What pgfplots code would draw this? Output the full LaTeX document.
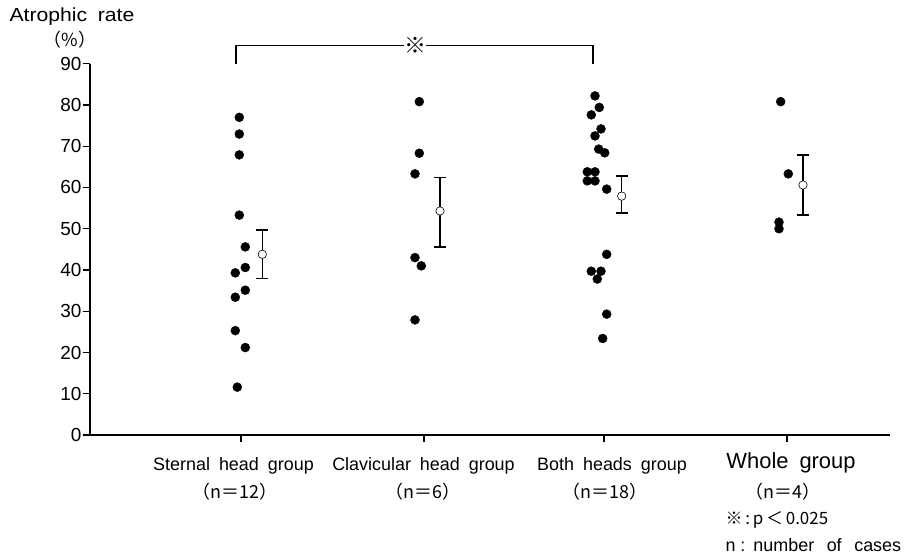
\documentclass[border=0pt]{standalone}
\usepackage{fontspec}
\setmainfont{Liberation Sans}
\newfontfamily\cjk{Noto Sans CJK JP}
\usepackage{pgfplots}
\pgfplotsset{compat=1.18}

\newcommand{\ws}{\hspace{0.5em}}

\begin{document}
\begin{tikzpicture}
\useasboundingbox (0,0) rectangle (907bp,-554bp);
\begin{axis}[
    at={(90bp,-435bp)}, anchor=south west,
    scale only axis,
    width=800bp, height=371.3bp,
    xmin=90, xmax=890, ymin=0, ymax=90,
    axis x line=bottom, axis y line=left,
    axis line style={-, line width=1.4pt},
    xtick={241,424,604,787}, xticklabels={},
    ytick={0,10,...,90},
    tick align=outside,
    major tick length=7bp,
    tick style={line width=1.1pt, black},
    yticklabel style={font=\fontsize{19}{21}\selectfont, xshift=2bp},
    /pgf/number format/assume math mode=true,
    clip=false,
]
    % individual cases
    \addplot[only marks, mark=*, mark size=4.5bp, black] coordinates {
        (239.3,77.0) (239.3,72.95) (239.3,67.9) (239.3,53.3)
        (245.3,45.6) (245.3,40.6) (235.3,39.3) (245.3,35.1)
        (235.3,33.4) (235.3,25.3) (245.3,21.2) (237.3,11.6)
    };
    \addplot[only marks, mark=*, mark size=4.5bp, black] coordinates {
        (419.3,80.8) (419.3,68.3) (415,63.3) (415,43.0) (421.3,41.0) (415,27.9)
    };
    \addplot[only marks, mark=*, mark size=4.5bp, black] coordinates {
        (595,82.2) (599.3,79.4) (591.3,77.6) (601,74.2) (595,72.5)
        (598.7,69.3) (604.7,68.4) (587.3,63.8) (595,63.8) (587.3,61.6)
        (595,61.6) (606.7,59.6) (606.7,43.8) (591.3,39.7) (601,39.7)
        (597.3,37.8) (606.7,29.3) (602.7,23.4)
    };
    \addplot[only marks, mark=*, mark size=4.5bp, black] coordinates {
        (780.7,80.8) (788.3,63.3) (779,51.6) (779,50.0)
    };
    % mean and error bars
    \addplot[only marks, mark=*, mark size=4.2bp,
        mark options={fill=white, draw=black, line width=0.6pt},
        error bars/.cd, y dir=both, y explicit,
        error bar style={line width=1.3pt, black},
        error mark options={rotate=90, mark size=6bp, line width=1.3pt, black}]
        coordinates {
        (262.3,43.8) += (0,5.9) -= (0,5.9)
        (440,54.3) += (0,8.1) -= (0,8.7)
        (621.7,57.9) += (0,4.9) -= (0,4.1)
        (803,60.6) += (0,7.3) -= (0,7.3)
    };
    % significance bracket
    \draw[line width=1.1pt] (axis cs:236,90) |- (axis cs:404,94.5);
    \draw[line width=1.1pt] (axis cs:426,94.5) -| (axis cs:593,90);
    \node[font=\fontsize{22}{24}\selectfont] at (axis cs:415,94.5) {\cjk{※}};
\end{axis}

\node[anchor=west, font=\fontsize{19}{21}\selectfont] at (6bp,-17bp) {\scalebox{1.12}[1]{Atrophic\ws rate}};
\node[font=\fontsize{18}{20}\selectfont] at (70bp,-40bp) {\cjk{（}\%\cjk{）}};

\begin{scope}[every node/.style={font=\fontsize{18}{20}\selectfont}]
\node at (233.5bp,-466bp) {Sternal\ws head\ws group};
\node at (235bp,-492bp) {\cjk{（}n\cjk{＝}12\cjk{）}};
\node at (423.5bp,-466bp) {Clavicular\ws head\ws group};
\node at (423bp,-492bp) {\cjk{（}n\cjk{＝}6\cjk{）}};
\node at (612bp,-466bp) {Both\ws heads\ws group};
\node at (605bp,-492bp) {\cjk{（}n\cjk{＝}18\cjk{）}};
\node[font=\fontsize{22}{24}\selectfont] at (791bp,-463bp) {Whole\ws group};
\node at (783bp,-492bp) {\cjk{（}n\cjk{＝}4\cjk{）}};
\node[anchor=west, font=\fontsize{17}{19}\selectfont] at (722bp,-520bp) {\cjk{※}\,:\,p\,\cjk{＜}\,0.025};
\node[anchor=west, font=\fontsize{18}{20}\selectfont] at (722bp,-545bp) {n\ :\ \,number\hspace{0.7em}of\hspace{0.7em}cases};
\end{scope}
\end{tikzpicture}
\end{document}
